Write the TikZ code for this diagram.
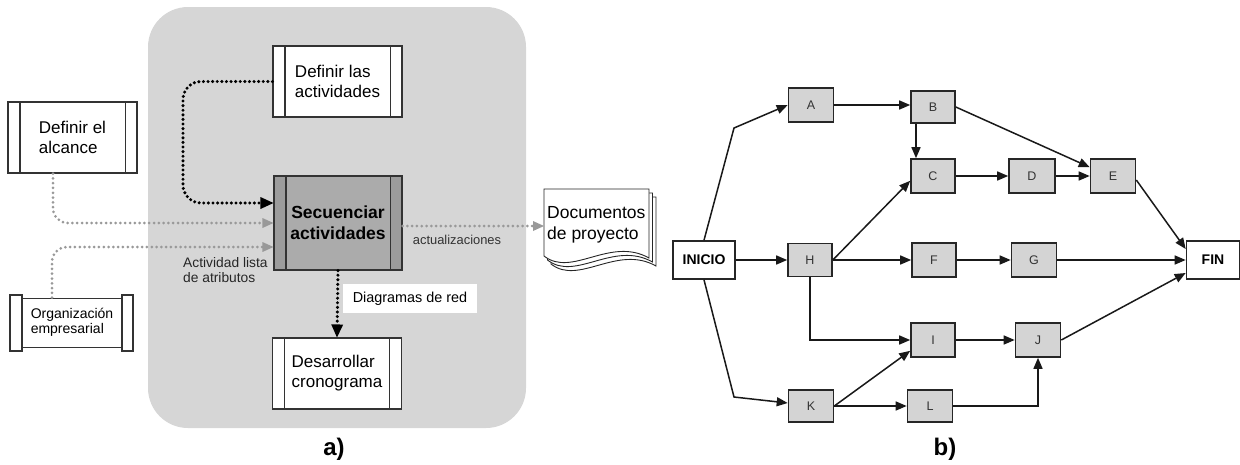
\documentclass[tikz,border=0pt]{standalone}
\usepackage{fontspec}
\setmainfont{Liberation Sans}
\usetikzlibrary{arrows.meta}
\definecolor{panelgray}{HTML}{D6D6D6}
\definecolor{dotgray}{HTML}{999999}
\definecolor{secfill}{HTML}{ABABAB}
\definecolor{secbar}{HTML}{9C9C9C}
\definecolor{nodegray}{HTML}{D4D4D4}

\begin{document}
\begin{tikzpicture}[x=1pt,y=-1pt,
  proc/.style={draw=black!80, line width=1.1pt, fill=white, inner sep=0pt, align=left,
    minimum width=129pt, minimum height=71pt, font=\fontsize{17}{20}\selectfont},
  barline/.style={draw=black!80, line width=1.1pt},
  blackdots/.style={black, line width=3.4pt, dash pattern=on 0pt off 4.6pt, line cap=round,
    -{Triangle[length=13pt,width=12pt,line width=0pt]}},
  graydots/.style={dotgray, line width=3pt, dash pattern=on 0pt off 4.8pt, line cap=round,
    -{Triangle[length=11pt,width=10pt,line width=0pt]}},
  act/.style={draw=black!85, line width=1.6pt, fill=nodegray, minimum width=44pt,
    minimum height=34pt, inner sep=0pt, font=\fontsize{12.5}{14}\selectfont, text=black!80},
  term/.style={act, fill=white, font=\bfseries\fontsize{14}{16}\selectfont, text=black},
  link/.style={black!90, line width=1.5pt, -{Triangle[length=11pt,width=9pt]}},
  page/.style={draw=black!85, line width=0.9pt, fill=white},
]
\useasboundingbox (0,0) rectangle (1240,464);

% ---------------- a) process context ----------------
\fill[panelgray, rounded corners=40pt] (148,7) rectangle (526,428);

\node[proc] (def2) at (337.5,81.5) {Definir las\\actividades};
\node[proc] (alc) at (72.5,137.5) {Definir el\\alcance};
\node[proc, fill=secfill, minimum width=128pt, minimum height=94pt, align=center,
  font=\bfseries\fontsize{17.5}{21}\selectfont,
  path picture={
    \fill[secbar] (path picture bounding box.north west) rectangle
      ([xshift=12.5pt]path picture bounding box.south west);
    \fill[secbar] (path picture bounding box.north east) rectangle
      ([xshift=-12.5pt]path picture bounding box.south east);
  }] (sec) at (338,223) {Secuenciar\\actividades};
\node[proc] (des) at (337,373.5) {Desarrollar\\cronograma};

\foreach \n in {def2,alc,sec,des}{
  \draw[barline] ([xshift=12.5pt]\n.north west) -- ([xshift=12.5pt]\n.south west);
  \draw[barline] ([xshift=-12.5pt]\n.north east) -- ([xshift=-12.5pt]\n.south east);
}

% scroll-shaped input
\node[draw=black!80, line width=1.1pt, fill=white, minimum width=100pt, minimum height=49pt,
  inner sep=0pt, align=left, font=\fontsize{14}{15}\selectfont] (org) at (72,322.75)
  {Organización\\empresarial};
\filldraw[barline, fill=white] (10,295) rectangle (22,351);
\filldraw[barline, fill=white] (122,295) rectangle (133,351);

% stacked documents
\filldraw[page, shift={(7,8)}] (544,189) -- (649,189) -- (649,258)
  .. controls (610,236) and (572,278) .. (544,256) -- cycle;
\filldraw[page, shift={(3.5,4)}] (544,189) -- (649,189) -- (649,258)
  .. controls (610,236) and (572,278) .. (544,256) -- cycle;
\filldraw[page] (544,189) -- (649,189) -- (649,258)
  .. controls (610,236) and (572,278) .. (544,256) -- cycle;
\node[anchor=west, inner sep=0pt, align=left, font=\fontsize{17.5}{21}\selectfont]
  (doc) at (547,225) {Documentos\\de proyecto};

% labels
\node[anchor=north west, inner sep=0pt, align=left, text=black!85,
  font=\fontsize{13.8}{15}\selectfont] (attr) at (183,257) {Actividad lista\\de atributos};
\node[text=black!80, font=\fontsize{12.9}{15}\selectfont] (upd) at (457,240) {actualizaciones};
\node[fill=white, minimum width=134pt, minimum height=29pt, inner sep=0pt,
  font=\fontsize{14.4}{16}\selectfont] (net) at (410,298.5) {Diagramas de red};

% flows
\draw[blackdots, rounded corners=18pt] (def2.west) -- (183,81.5) -- (183,203)
  -- ([yshift=20pt]sec.west);
\draw[graydots, rounded corners=15pt] ([xshift=-19.5pt]alc.south) -- (53,223) -- (sec.west);
\draw[graydots, rounded corners=15pt] ([xshift=-20pt]org.north) -- (52,247)
  -- ([yshift=-24pt]sec.west);
\draw[graydots] ([yshift=-3pt]sec.east) -- ([xshift=-3pt,yshift=-1pt]doc.west);
\draw[blackdots] (sec.south) -- (des.north);

\node[anchor=base, font=\bfseries\fontsize{24}{28}\selectfont] (la) at (334,455) {a)};

% ---------------- b) precedence network ----------------
\node[term, minimum width=62pt, minimum height=38pt] (ini) at (704,260) {INICIO};
\node[term, minimum width=53pt, minimum height=38pt] (fin) at (1213,260) {FIN};
\node[act, minimum width=45pt] (A) at (811,105) {A};
\node[act, minimum height=32pt] (B) at (933,107) {B};
\node[act] (C) at (933,176) {C};
\node[act, minimum width=46pt] (D) at (1032,176) {D};
\node[act, minimum width=45pt] (E) at (1113,176) {E};
\node[act, minimum height=33pt] (H) at (810,260) {H};
\node[act] (F) at (934,260) {F};
\node[act, minimum width=45pt] (G) at (1034,260) {G};
\node[act] (I) at (933,340) {I};
\node[act, minimum width=45pt] (J) at (1038,340) {J};
\node[act, minimum width=45pt, minimum height=32pt] (K) at (811,406) {K};
\node[act, minimum width=45pt, minimum height=32pt] (L) at (930,406) {L};

\draw[link] (ini.north) -- (734,128) -- (A.west);
\draw[link] (ini.east) -- (H.west);
\draw[link] (ini.south) -- (734,397) -- ([yshift=3pt]K.west);
\draw[link] (A.east) -- (A.east -| B.west);
\draw[link] ([xshift=-17pt]B.south) -- ([xshift=-17pt]C.north);
\draw[link] (B.east) -- ([yshift=-9pt]E.north west);
\draw[link] (C.east) -- (D.west);
\draw[link] (D.east) -- (E.west);
\draw[link] (H.east) -- ([yshift=13pt]C.south west);
\draw[link] (H.east) -- (F.west);
\draw[link] (H.south) |- (I.west);
\draw[link] (F.east) -- (G.west);
\draw[link] (G.east) -- (fin.west);
\draw[link] ([yshift=-4pt]E.east) -- ([yshift=11pt]fin.west);
\draw[link] (I.east) -- (J.west);
\draw[link] (J.east) -- ([yshift=-13pt]fin.west);
\draw[link] (K.east) -- ([yshift=7pt]I.south west);
\draw[link] (K.east) -- (L.west);
\draw[link] (L.east) -| (J.south);

\node[anchor=base, font=\bfseries\fontsize{24}{28}\selectfont] (lb) at (945,455) {b)};
\end{tikzpicture}
\end{document}
